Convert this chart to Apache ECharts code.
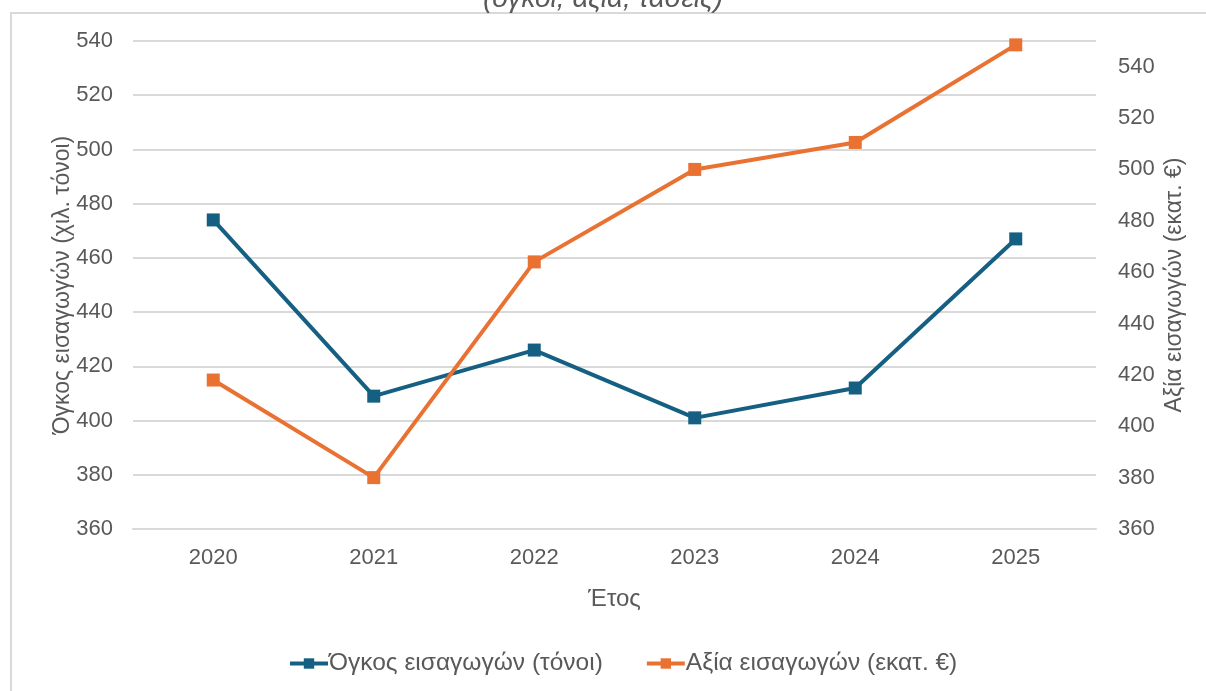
<!DOCTYPE html>
<html>
<head>
<meta charset="utf-8">
<script src="https://cdn.jsdelivr.net/npm/echarts@6/dist/echarts.min.js"></script>
<style>
  html, body { margin: 0; padding: 0; background: #fff; }
  #chart { width: 1206px; height: 691px; }
</style>
</head>
<body>
<div id="chart"></div>
<script>
// δεδομένα
var years = ["2020", "2021", "2022", "2023", "2024", "2025"];
var volume = [474, 409, 426, 401, 412, 467];      // χιλ. τόνοι
var value = [418, 380, 464, 500, 510.5, 548.5];   // εκατ. €
var volumeName = "Όγκος εισαγωγών (τόνοι)";
var valueName = "Αξία εισαγωγών (εκατ. €)";

var font = "Liberation Sans";
var grey = "#595959";

var chart = echarts.init(document.getElementById("chart"));
var option = {
  backgroundColor: "#fff",
  textStyle: { fontFamily: font },
  title: {
    text: "(όγκοι, αξία, τάσεις)",
    left: "center",
    top: -20,
    textStyle: { fontFamily: font, fontStyle: "italic", fontWeight: "normal", fontSize: 28, color: grey }
  },
  // πλαίσιο
  graphic: [{
    type: "polyline",
    shape: { points: [[11, 691], [11, 13], [1206, 13]] },
    style: { stroke: "#d9d9d9", lineWidth: 2, fill: null },
    silent: true
  }],
  grid: { left: 133, right: 110, top: 41, bottom: 162 },
  legend: {
    bottom: 10,
    left: 283,
    itemWidth: 38,
    itemHeight: 13,
    itemGap: 42,
    lineStyle: { width: 4 },
    textStyle: { fontSize: 24.5, color: grey, fontFamily: font, padding: [0, 0, 0, -4] },
    data: [volumeName, valueName]
  },
  xAxis: {
    type: "category",
    data: years,
    name: "Έτος",
    nameLocation: "middle",
    nameGap: 58,
    nameMoveOverlap: false,
    nameTextStyle: { fontSize: 24, color: grey },
    axisLine: { lineStyle: { color: "#d9d9d9", width: 2 } },
    axisTick: { show: false },
    axisLabel: { fontSize: 22, color: grey, margin: 18 }
  },
  yAxis: [
    {
      type: "value",
      min: 360, max: 540, interval: 20,
      name: "Όγκος εισαγωγών (χιλ. τόνοι)",
      nameLocation: "middle",
      nameGap: 59,
      nameMoveOverlap: false,
      nameTextStyle: { fontSize: 23, color: grey },
      axisLine: { show: false },
      axisTick: { show: false },
      axisLabel: { fontSize: 22, color: grey, margin: 20 },
      splitLine: { lineStyle: { color: "#d9d9d9", width: 2 } }
    },
    {
      type: "value",
      min: 360, max: 550, interval: 20,
      name: "Αξία εισαγωγών (εκατ. €)",
      nameLocation: "middle",
      nameRotate: 90,
      nameGap: 67,
      nameMoveOverlap: false,
      nameTextStyle: { fontSize: 23, color: grey },
      axisLine: { show: false },
      axisTick: { show: false },
      axisLabel: { fontSize: 22, color: grey, margin: 22, showMaxLabel: false },
      splitLine: { show: false }
    }
  ],
  series: [
    {
      name: volumeName,
      type: "line",
      yAxisIndex: 0,
      data: volume,
      symbol: "rect",
      symbolSize: 13,
      lineStyle: { width: 4, color: "#156082" },
      itemStyle: { color: "#156082" },
      emphasis: { disabled: true },
      animation: false
    },
    {
      name: valueName,
      type: "line",
      yAxisIndex: 1,
      data: value,
      symbol: "rect",
      symbolSize: 13,
      lineStyle: { width: 4, color: "#e97132" },
      itemStyle: { color: "#e97132" },
      emphasis: { disabled: true },
      animation: false
    }
  ]
};
chart.setOption(option);
</script>
</body>
</html>
